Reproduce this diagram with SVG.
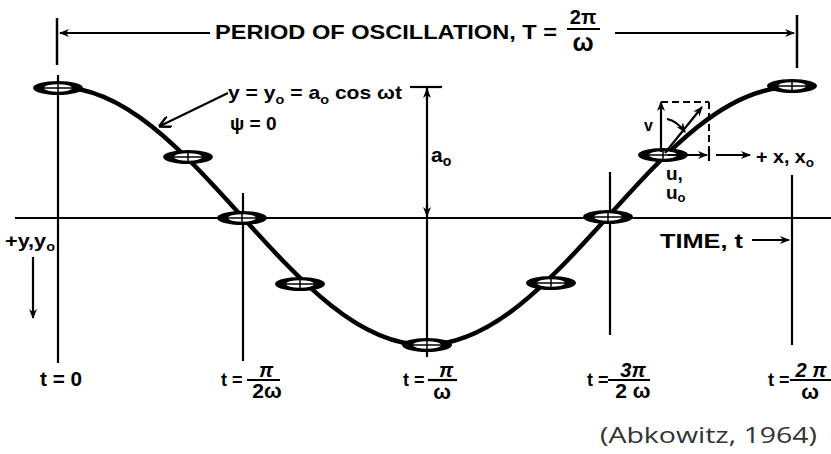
<svg xmlns="http://www.w3.org/2000/svg" width="831" height="454" viewBox="0 0 831 454">
<style>
.t{font-family:"Liberation Sans","DejaVu Sans",sans-serif;font-weight:bold;fill:#000}
.ln{stroke:#000;stroke-width:2.2;fill:none}
.tk{stroke:#000;stroke-width:2.5;fill:none}
.dash{stroke:#000;stroke-width:2;fill:none;stroke-dasharray:7,4}
.cite{font-family:"Open Sans","Noto Sans",sans-serif;fill:#333}
</style>
<defs>
<marker id="ah" viewBox="0 0 10 10" refX="9" refY="5" markerWidth="10" markerHeight="10" markerUnits="userSpaceOnUse" orient="auto">
<path d="M0,1 L10,5 L0,9 L3,5 Z" fill="#000"/>
</marker>
<marker id="av" viewBox="0 0 10 10" refX="9" refY="5" markerWidth="12" markerHeight="12" markerUnits="userSpaceOnUse" orient="auto">
<path d="M0,0 L10,5 L0,10" fill="none" stroke="#000" stroke-width="2"/>
</marker>
<g id="pt">
<ellipse cx="0" cy="0" rx="25" ry="7" fill="#000"/>
<ellipse cx="0" cy="0" rx="14" ry="3.8" fill="#fff"/>
<line x1="-14" y1="0" x2="14" y2="0" stroke="#000" stroke-width="1.5"/>
<line x1="0" y1="-4" x2="0" y2="4" stroke="#000" stroke-width="1.5"/>
</g>
</defs>
<rect width="831" height="454" fill="#fff"/>

<g id="period">
<line class="tk" x1="57" y1="18" x2="57" y2="65"/>
<line class="tk" x1="797" y1="15" x2="797" y2="68"/>
<text class="t" x="215" y="39" font-size="20" textLength="342" lengthAdjust="spacingAndGlyphs">PERIOD OF OSCILLATION, T =</text>
<text class="t" x="583" y="24" font-size="20" text-anchor="middle">2π</text>
<line class="ln" x1="567" y1="29" x2="600" y2="29"/>
<text class="t" x="583" y="51" font-size="25" text-anchor="middle">ω</text>
</g>

<g id="axes">
<line class="ln" x1="15" y1="218" x2="831" y2="218"/>
<line class="ln" x1="58" y1="75" x2="58" y2="363"/>
<line class="ln" x1="243" y1="193" x2="243" y2="361"/>
<line class="ln" x1="427" y1="87" x2="427" y2="357"/>
<line class="ln" x1="610" y1="172" x2="610" y2="335"/>
<line class="ln" x1="792" y1="175" x2="792" y2="345"/>
</g>

<g id="curve">
<path d="M58,87 C124.4,87 181.65,149.9 241.5,216 S358.6,345 425,345 S548.65,282.1 608.5,216 S725.6,87 792,87" stroke="#000" stroke-width="4.5" fill="none"/>
</g>

<g id="particles">
<use href="#pt" x="58" y="88"/>
<use href="#pt" x="188" y="157"/>
<use href="#pt" x="242" y="218"/>
<use href="#pt" x="300" y="284"/>
<use href="#pt" x="427" y="345"/>
<use href="#pt" x="551" y="283"/>
<use href="#pt" x="608" y="217"/>
<use href="#pt" x="663" y="155"/>
<use href="#pt" x="792" y="86"/>
</g>

<g id="connectors">
<line class="ln" x1="210" y1="33" x2="60" y2="33" marker-end="url(#ah)"/>
<line class="ln" x1="615" y1="33" x2="794" y2="33" marker-end="url(#ah)"/>
<line class="ln" x1="228" y1="93" x2="160" y2="126" marker-end="url(#av)"/>
<line class="ln" x1="410" y1="87" x2="442" y2="87"/>
<line class="ln" x1="427" y1="100" x2="427" y2="89" marker-end="url(#ah)"/>
<line class="ln" x1="427" y1="205" x2="427" y2="216" marker-end="url(#ah)"/>
<line class="ln" x1="33" y1="257" x2="33" y2="318" marker-end="url(#ah)"/>
<line class="ln" x1="752" y1="240" x2="789" y2="240" marker-end="url(#ah)"/>
<line class="ln" x1="716" y1="155" x2="750" y2="155" marker-end="url(#ah)"/>
<line class="ln" x1="661" y1="152" x2="661" y2="102" marker-end="url(#ah)"/>
<line class="dash" x1="661" y1="102" x2="709" y2="102"/>
<line class="dash" x1="709" y1="102" x2="709" y2="148"/>
<line class="ln" x1="668" y1="155" x2="707" y2="155" marker-end="url(#ah)"/>
<line class="ln" x1="709" y1="148" x2="709" y2="161"/>
<line class="ln" x1="665" y1="153" x2="702" y2="107" marker-end="url(#ah)"/>
<path class="ln" d="M667,119 Q677,121 685,132" marker-end="url(#ah)"/>
</g>

<g id="labels">
<text class="t" x="228" y="99" font-size="19" textLength="174" lengthAdjust="spacingAndGlyphs">y = y<tspan font-size="13" dy="5">o</tspan><tspan dy="-5"> = a</tspan><tspan font-size="13" dy="5">o</tspan><tspan dy="-5"> cos ωt</tspan></text>
<text class="t" x="230" y="130" font-size="19">ψ = 0</text>
<text class="t" x="431" y="162" font-size="21">a<tspan font-size="14" dy="4">o</tspan></text>
<text class="t" x="5" y="247" font-size="18" textLength="50" lengthAdjust="spacingAndGlyphs">+y,y<tspan font-size="12" dy="4">o</tspan></text>
<text class="t" x="644" y="131" font-size="16">v</text>
<text class="t" x="756" y="163" font-size="19" textLength="58" lengthAdjust="spacingAndGlyphs">+ x, x<tspan font-size="13" dy="4">o</tspan></text>
<text class="t" x="666" y="180" font-size="19">u,</text>
<text class="t" x="666" y="199" font-size="19">u<tspan font-size="13" dy="3">o</tspan></text>
<text class="t" x="660" y="248" font-size="20" textLength="83" lengthAdjust="spacingAndGlyphs">TIME, t</text>
</g>

<g id="tlabels">
<text class="t" x="40" y="386" font-size="20" textLength="42" lengthAdjust="spacingAndGlyphs">t = 0</text>
<text class="t" x="221" y="386" font-size="18">t =</text>
<text class="t" x="266" y="377" font-size="20" text-anchor="middle" font-style="italic">π</text>
<line class="ln" x1="247" y1="380" x2="280" y2="380"/>
<text class="t" x="267" y="398" font-size="21" text-anchor="middle">2ω</text>
<text class="t" x="403" y="386" font-size="18">t =</text>
<text class="t" x="446" y="377" font-size="20" text-anchor="middle" font-style="italic">π</text>
<line class="ln" x1="428" y1="380" x2="457" y2="380"/>
<text class="t" x="442" y="399" font-size="21" text-anchor="middle">ω</text>
<text class="t" x="587" y="386" font-size="18">t =</text>
<text class="t" x="633" y="377" font-size="20" text-anchor="middle" font-style="italic">3π</text>
<line class="ln" x1="608" y1="380" x2="650" y2="380"/>
<text class="t" x="633" y="398" font-size="21" text-anchor="middle">2 ω</text>
<text class="t" x="768" y="386" font-size="18">t =</text>
<text class="t" x="811" y="377" font-size="20" text-anchor="middle" font-style="italic">2 π</text>
<line class="ln" x1="790" y1="380" x2="831" y2="380"/>
<text class="t" x="810" y="399" font-size="21" text-anchor="middle">ω</text>
</g>

<text class="cite" x="600" y="443" font-size="22" textLength="217" lengthAdjust="spacingAndGlyphs">(Abkowitz, 1964)</text>
</svg>
